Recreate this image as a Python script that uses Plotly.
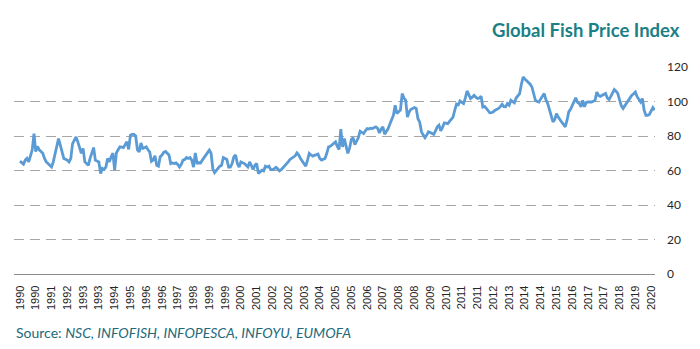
import plotly.graph_objects as go

# Monthly Global Fish Price Index, January 1990 onward
index_1990s = [
    65.4, 64.5, 63.7, 66.0, 67.0, 65.0, 68.0, 72.0, 81.4, 71.0, 74.0, 72.0,   # 1990
    71.0, 70.0, 67.0, 65.0, 64.0, 63.0, 62.0, 65.0, 69.0, 73.0, 78.5, 74.7,   # 1991
    70.0, 67.0, 66.5, 66.0, 65.0, 67.0, 75.6, 78.0, 79.5, 76.6, 73.0, 70.0,   # 1992
    72.8, 65.0, 64.0, 63.0, 67.0, 71.0, 73.3, 66.0, 65.5, 65.0, 58.3, 61.2,   # 1993
    60.6, 62.0, 67.0, 65.0, 68.0, 70.0, 60.2, 70.2, 72.0, 73.7, 73.5, 73.3,   # 1994
    75.0, 76.6, 72.2, 80.5, 81.0, 81.0, 80.0, 72.0, 70.8, 76.0, 72.8, 73.5,   # 1995
    73.7, 72.0, 70.8, 65.3, 66.0, 68.5, 63.0, 62.5, 68.0, 69.0, 70.5, 71.0,   # 1996
    70.0, 69.0, 64.0, 64.4, 64.0, 64.4, 63.5, 62.0, 63.5, 66.0, 66.4, 67.5,   # 1997
    67.0, 67.5, 66.0, 62.0, 70.2, 64.4, 64.5, 64.4, 66.0, 67.5, 68.5, 70.0,   # 1998
    71.8, 70.0, 61.0, 58.8, 60.0, 61.2, 62.5, 63.0, 67.5, 67.0, 66.4, 62.0,   # 1999
]
index_2000s = [
    62.0, 64.0, 68.0, 69.0, 64.0, 62.0, 65.0, 64.5, 64.0, 63.0, 62.0, 65.0,   # 2000
    63.0, 60.6, 63.0, 64.0, 58.3, 59.5, 60.2, 59.8, 62.5, 62.0, 62.5, 60.5,   # 2001
    60.5, 61.0, 61.8, 61.0, 59.8, 60.5, 61.5, 62.5, 63.5, 65.0, 66.4, 67.0,   # 2002
    67.5, 68.5, 70.2, 69.0, 67.0, 65.5, 64.0, 62.5, 66.0, 69.9, 69.0, 68.3,   # 2003
    68.8, 69.0, 69.5, 67.0, 66.0, 66.5, 67.0, 70.0, 73.7, 74.0, 74.7, 75.5,   # 2004
    76.6, 74.0, 72.2, 84.0, 73.7, 78.5, 74.0, 69.9, 73.0, 78.0, 79.0, 75.0,   # 2005
    77.0, 79.0, 82.8, 82.0, 81.4, 83.0, 84.3, 84.0, 84.5, 84.3, 84.8, 85.3,   # 2006
    84.5, 81.8, 84.0, 85.3, 81.0, 82.5, 84.3, 87.0, 90.0, 92.0, 97.8, 93.0,   # 2007
    94.0, 95.0, 104.6, 102.0, 100.7, 91.0, 94.0, 95.5, 96.0, 96.5, 96.0, 90.0,  # 2008
    88.0, 82.4, 80.5, 79.0, 80.5, 82.4, 82.0, 81.5, 81.0, 83.0, 85.3, 86.3,   # 2009
]
index_2010s = [
    83.0, 85.0, 87.6, 87.5, 87.2, 88.5, 90.1, 91.0, 95.0, 98.5, 98.0, 100.3,  # 2010
    99.5, 98.8, 102.0, 106.1, 104.0, 101.7, 102.5, 103.6, 102.5, 101.7, 102.0, 103.0,  # 2011
    96.8, 97.2, 96.0, 95.0, 93.4, 93.5, 94.0, 95.0, 95.3, 96.0, 97.0, 98.4,   # 2012
    97.0, 96.9, 98.8, 97.8, 100.7, 100.0, 99.2, 102.0, 103.6, 104.6, 110.0, 114.2,  # 2013
    113.0, 111.9, 111.3, 110.0, 108.4, 104.6, 100.7, 100.0, 99.7, 101.5, 103.0, 104.6,  # 2014
    101.0, 98.8, 95.3, 92.0, 88.2, 89.5, 93.0, 91.0, 89.1, 88.0, 86.8, 85.3,  # 2015
    89.0, 94.0, 95.5, 98.0, 100.5, 102.1, 99.5, 98.8, 96.9, 100.7, 96.9, 99.5,  # 2016
    99.7, 99.7, 99.7, 100.2, 100.7, 105.5, 103.5, 103.0, 103.6, 104.0, 104.6, 102.0,  # 2017
    101.1, 103.0, 104.6, 106.9, 106.0, 104.6, 101.0, 97.5, 96.0, 97.5, 99.5, 101.1,  # 2018
    102.0, 103.6, 104.5, 105.5, 102.8, 101.5, 99.7, 101.7, 95.0, 92.0, 92.0, 92.5,  # 2019
]
index_2020 = [94.5, 96.5, 95.0]

values = index_1990s + index_2000s + index_2010s + index_2020
months = list(range(len(values)))

# Axis labels: a year label every ninth month
tick_positions = list(range(0, 361, 9))
tick_labels = [
    "1990", "1990", "1991", "1992", "1993", "1993", "1994", "1995", "1996", "1996",
    "1997", "1998", "1999", "1999", "2000", "2001", "2002", "2002", "2003", "2004",
    "2005", "2005", "2006", "2007", "2008", "2008", "2009", "2010", "2011", "2011",
    "2012", "2013", "2014", "2014", "2015", "2016", "2017", "2017", "2018", "2019",
    "2020",
]
y_ticks = [0, 20, 40, 60, 80, 100, 120]

fig = go.Figure()
fig.add_trace(go.Scatter(
    x=months, y=values, mode="lines",
    line=dict(color="#5b9bd5", width=2.8),
    hoverinfo="skip", showlegend=False,
))

fig.update_layout(
    width=700, height=349,
    margin=dict(l=14, r=37, t=67, b=75),
    paper_bgcolor="white", plot_bgcolor="white",
    xaxis=dict(
        range=[-3.4, 362.2],
        tickmode="array", tickvals=tick_positions, ticktext=tick_labels,
        tickangle=-90, ticks="", showgrid=False, zeroline=False,
        showline=True, linecolor="#8c8c8c", linewidth=1.3,
        tickfont=dict(family="Liberation Sans", size=11, color="#262626"),
        ticklabelstandoff=6,
    ),
    yaxis=dict(
        range=[0, 120], side="right",
        tickmode="array", tickvals=y_ticks,
        showgrid=True, gridcolor="#a6a6a6", gridwidth=1.2, griddash="10px,6px",
        zeroline=False, showline=False, ticks="",
        tickfont=dict(family="Lato", size=12, color="#262626"),
        ticklabelstandoff=11,
    ),
    annotations=[
        dict(
            text="<b>Global Fish Price Index</b>",
            xref="paper", yref="paper", x=1.042, y=1.177,
            xanchor="right", yanchor="middle", showarrow=False,
            font=dict(family="Lato", size=18.5, color="#1a7f86"),
        ),
        dict(
            text="Source: <i>NSC, INFOFISH, INFOPESCA, INFOYU, EUMOFA</i>",
            xref="paper", yref="paper", x=0.0, y=-0.283,
            xanchor="left", yanchor="middle", showarrow=False,
            font=dict(family="Lato", size=14, color="#22697a"),
        ),
    ],
)

fig.write_html("out.html")
